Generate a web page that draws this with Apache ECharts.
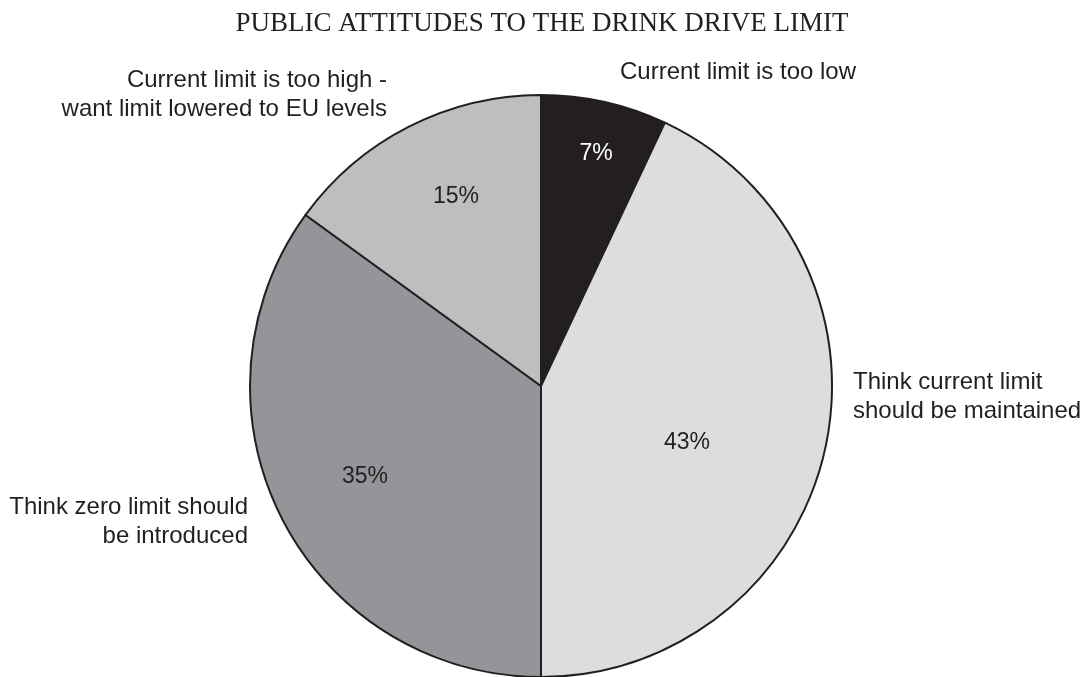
<!DOCTYPE html>
<html>
<head>
<meta charset="utf-8">
<script src="https://cdn.jsdelivr.net/npm/echarts@6/dist/echarts.min.js"></script>
<style>
html,body{margin:0;padding:0;background:#fff;}
#chart{width:1084px;height:677px;}
</style>
</head>
<body>
<div id="chart"></div>
<script>
const titleText = 'PUBLIC ATTITUDES TO THE DRINK DRIVE LIMIT';
const categories = [
  'Current limit is too low',
  'Think current limit\nshould be maintained',
  'Think zero limit should\nbe introduced',
  'Current limit is too high -\nwant limit lowered to EU levels'
];
const values = [7, 43, 35, 15];

const sliceColors = ['#231f20', '#dcdddf', '#939598', '#bcbec0'];
const pctColors = ['#ffffff', '#231f20', '#231f20', '#231f20'];
// label layout (pixel anchors)
const outerLabelPos = [
  {x: 738, y: 72, align: 'center'},
  {x: 853, y: 397, align: 'left'},
  {x: 248, y: 522, align: 'right'},
  {x: 387, y: 95, align: 'right'}
];
const innerLabelPos = [
  {x: 596, y: 154},
  {x: 687, y: 443},
  {x: 365, y: 477},
  {x: 456, y: 197}
];

const chart = echarts.init(document.getElementById('chart'), null, {renderer: 'canvas'});
const center = [541, 386];
const radius = 291;

const innerData = categories.map((c, i) => ({
  name: c, value: values[i],
  itemStyle: {color: sliceColors[i]},
  label: {color: pctColors[i]}
}));
const outerData = categories.map((c, i) => ({name: c, value: values[i]}));

chart.setOption({
  animation: false,
  backgroundColor: '#ffffff',
  title: {
    text: titleText,
    left: 'center',
    top: 5,
    textStyle: {fontFamily: 'Liberation Serif', fontWeight: 'normal', fontSize: 27, color: '#231f20'}
  },
  series: [
    {
      type: 'pie',
      center: center,
      radius: radius,
      startAngle: 90,
      clockwise: true,
      silent: true,
      itemStyle: {borderColor: '#231f20', borderWidth: 2},
      label: {
        show: true,
        position: 'inside',
        formatter: '{c}%',
        fontFamily: 'Liberation Sans',
        fontSize: 23
      },
      labelLine: {show: false},
      labelLayout: function (p) {
        const q = innerLabelPos[p.dataIndex];
        return {x: q.x, y: q.y, align: 'center', verticalAlign: 'middle'};
      },
      data: innerData
    },
    {
      type: 'pie',
      center: center,
      radius: radius,
      startAngle: 90,
      clockwise: true,
      silent: true,
      avoidLabelOverlap: false,
      itemStyle: {color: 'rgba(0,0,0,0)', borderWidth: 0},
      label: {
        show: true,
        position: 'outside',
        formatter: '{b}',
        fontFamily: 'Liberation Sans',
        fontSize: 24,
        lineHeight: 29,
        color: '#231f20'
      },
      labelLine: {show: false},
      labelLayout: function (p) {
        const q = outerLabelPos[p.dataIndex];
        return {x: q.x, y: q.y, align: q.align, verticalAlign: 'middle'};
      },
      data: outerData
    }
  ]
});
</script>
</body>
</html>
